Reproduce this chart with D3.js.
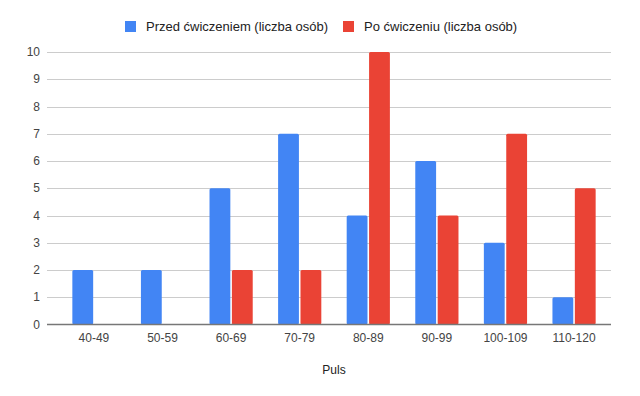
<!DOCTYPE html>
<html>
<head>
<meta charset="utf-8">
<script src="https://cdn.jsdelivr.net/npm/d3@7"></script>
<style>
  body { margin: 0; background: #fff; }
  text { font-family: Arial, "Liberation Sans", sans-serif; }
</style>
</head>
<body>
<svg id="chart"></svg>
<script>
// data
const categories = ["40-49", "50-59", "60-69", "70-79", "80-89", "90-99", "100-109", "110-120"];
const seriesNames = ["Przed ćwiczeniem (liczba osób)", "Po ćwiczeniu (liczba osób)"];
const before = [2, 2, 5, 7, 4, 6, 3, 1];
const after = [0, 0, 2, 2, 10, 4, 7, 5];
const yTicks = [0, 1, 2, 3, 4, 5, 6, 7, 8, 9, 10];
const colors = ["#4285F4", "#EA4335"];

const width = 640, height = 396;
const svg = d3.select("#chart").attr("width", width).attr("height", height);

const x = d3.scaleBand().domain(categories).range([60, 608]).paddingInner(0.37).paddingOuter(0.18);
const xs = d3.scaleBand().domain([0, 1]).range([0, x.bandwidth()]).paddingInner(0.07);
const y = d3.scaleLinear().domain([0, 10]).range([324.5, 52]);

// gridlines
svg.append("g").selectAll("line")
  .data(yTicks.filter(d => d > 0))
  .join("line")
  .attr("x1", 47).attr("x2", 611)
  .attr("y1", d => Math.round(y(d)) + 0.5).attr("y2", d => Math.round(y(d)) + 0.5)
  .attr("stroke", "#cccccc");

// y labels
svg.append("g").selectAll("text")
  .data(yTicks)
  .join("text")
  .attr("x", 40).attr("y", d => y(d) + 4)
  .attr("text-anchor", "end")
  .attr("font-size", 12)
  .attr("fill", "#444")
  .text(d => d);

// bars
const rows = categories.map((c, i) => ({ c, vals: [before[i], after[i]] }));
const groups = svg.append("g").selectAll("g")
  .data(rows)
  .join("g")
  .attr("transform", d => `translate(${x(d.c)},0)`);

groups.selectAll("rect")
  .data(d => d.vals.map((v, k) => ({ v, k })).filter(e => e.v > 0))
  .join("rect")
  .attr("x", d => xs(d.k))
  .attr("width", xs.bandwidth())
  .attr("y", d => y(d.v))
  .attr("height", d => y(0) - y(d.v))
  .attr("rx", 1.5)
  .attr("fill", d => colors[d.k]);

// baseline
svg.append("line")
  .attr("x1", 47).attr("x2", 611)
  .attr("y1", y(0)).attr("y2", y(0))
  .attr("stroke", "#777").attr("stroke-width", 1.3);

// x labels
svg.append("g").selectAll("text")
  .data(categories)
  .join("text")
  .attr("x", d => x(d) + x.bandwidth() / 2)
  .attr("y", 342)
  .attr("text-anchor", "middle")
  .attr("font-size", 12)
  .attr("fill", "#444")
  .text(d => d);

// axis title
svg.append("text")
  .attr("x", 334).attr("y", 374)
  .attr("text-anchor", "middle")
  .attr("font-size", 12)
  .attr("fill", "#222")
  .text("Puls");

// legend
const legendX = [125, 343];
const legend = svg.append("g").selectAll("g")
  .data(seriesNames)
  .join("g")
  .attr("transform", (d, i) => `translate(${legendX[i]},21)`);
legend.append("rect")
  .attr("width", 11).attr("height", 11)
  .attr("fill", (d, i) => colors[i]);
legend.append("text")
  .attr("x", 21).attr("y", 10)
  .attr("font-size", 13)
  .attr("fill", "#222")
  .text(d => d);
</script>
</body>
</html>
